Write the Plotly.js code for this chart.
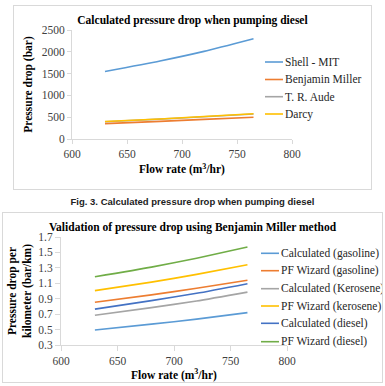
<!DOCTYPE html>
<html>
<head>
<meta charset="utf-8">
<script src="https://cdn.plot.ly/plotly-3.0.1.min.js"></script>
<style>
  html, body { margin: 0; padding: 0; background: #fff; width: 385px; height: 386px; overflow: hidden; }
  .plot { position: absolute; }
  .frame { position: absolute; border: 1px solid #d9d9d9; box-sizing: border-box; pointer-events: none; }
  #caption { position: absolute; left: 0; width: 385px; top: 196px; text-align: center;
             font-family: "Liberation Sans", Arial, sans-serif; font-weight: bold; font-size: 9.5px; color: #222; }
</style>
</head>
<body>
<div id="dieselChart" class="plot" style="left:13px;top:5px;width:359px;height:185px"></div>
<div class="frame" style="left:13px;top:5px;width:359px;height:185px"></div>
<div id="caption">Fig. 3. Calculated pressure drop when pumping diesel</div>
<div id="validationChart" class="plot" style="left:2px;top:212px;width:381px;height:171px"></div>
<div class="frame" style="left:2px;top:212px;width:381px;height:171px"></div>
<script>
// ---- Fig. 3: pressure drop (bar) vs flow rate, diesel ----
const dieselFlow = [630, 680, 720, 765];
const dieselMethods = ["Shell - MIT", "Benjamin Miller", "T. R. Aude", "Darcy"];
const shellMIT = [1550, 1790, 2010, 2300];
const benjaminMiller = [352, 405, 450, 500];
const trAude = [395, 455, 510, 572];
const darcy = [400, 460, 515, 578];
const dieselColors = ["#5B9BD5", "#ED7D31", "#A5A5A5", "#FFC000"];

// ---- Validation: pressure drop per km (bar/km) vs flow rate ----
const validationFlow = [630, 680, 720, 765];
const validationNames = ["Calculated (gasoline)", "PF Wizard (gasoline)", "Calculated (Kerosene)",
                         "PF Wizard (kerosene)", "Calculated (diesel)", "PF Wizard (diesel)"];
const calcGasoline = [0.495, 0.570, 0.635, 0.720];
const pfGasoline = [0.855, 0.950, 1.035, 1.140];
const calcKerosene = [0.685, 0.785, 0.870, 0.985];
const pfKerosene = [1.005, 1.115, 1.215, 1.340];
const calcDiesel = [0.765, 0.875, 0.970, 1.095];
const pfDiesel = [1.185, 1.310, 1.425, 1.570];
const validationColors = ["#5B9BD5", "#ED7D31", "#A5A5A5", "#FFC000", "#4472C4", "#70AD47"];

const SERIF = "Liberation Serif, Times New Roman, serif";

// Hand-drawn legend: short line sample followed by the series name,
// placed in pixel units of the chart div and converted to paper coords.
function legend(names, colors, x0, ys, m, w, h, fontSize) {
  const pw = w - m.l - m.r, ph = h - m.t - m.b;
  const px = x => (x - m.l) / pw;
  const py = y => 1 - (y - m.t) / ph;
  const shapes = [], annotations = [];
  names.forEach((name, i) => {
    shapes.push({ type: "line", xref: "paper", yref: "paper",
                  x0: px(x0), x1: px(x0 + 18), y0: py(ys[i]), y1: py(ys[i]),
                  line: { color: colors[i], width: 1.6 } });
    annotations.push({ xref: "paper", yref: "paper", x: px(x0 + 18), y: py(ys[i]),
                       xanchor: "left", yanchor: "middle", showarrow: false, text: name,
                       font: { family: SERIF, size: fontSize, color: "#262626" } });
  });
  return { shapes, annotations };
}

function axis(extra) {
  return Object.assign({
    showline: true, linecolor: "#d9d9d9", linewidth: 1,
    ticks: "outside", ticklen: 4, tickcolor: "#d9d9d9", tickwidth: 1,
    showgrid: false, zeroline: false, fixedrange: true,
    tickfont: { family: SERIF, size: 11.5, color: "#404040" }
  }, extra);
}

function titleFont(size) {
  return { family: SERIF, size: size, color: "#000", weight: "bold" };
}

// ---- draw Fig. 3 ----
(function () {
  const w = 359, h = 185, m = { l: 59, r: 80, t: 25, b: 51 };
  const series = [shellMIT, benjaminMiller, trAude, darcy];
  const traces = series.map((ys, i) => ({
    x: dieselFlow, y: ys, type: "scatter", mode: "lines", name: dieselMethods[i],
    line: { color: dieselColors[i], width: 1.6, shape: "spline", smoothing: 0.6 }, hoverinfo: "skip"
  }));
  const lg = legend(dieselMethods, dieselColors, 252, [57, 74.5, 91.7, 109], m, w, h, 11.5);
  Plotly.newPlot("dieselChart", traces, {
    width: w, height: h, margin: m, showlegend: false,
    paper_bgcolor: "rgba(0,0,0,0)", plot_bgcolor: "rgba(0,0,0,0)",
    title: { text: "Calculated pressure drop when pumping diesel", font: titleFont(11.5),
             x: 0.5, xref: "container", xanchor: "center", y: 1 - 15 / h, yref: "container", yanchor: "middle" },
    xaxis: axis({ range: [600, 800], dtick: 50, tick0: 600,
                  title: { text: "Flow rate (m<sup>3</sup>/hr)", font: titleFont(11.5), standoff: 6 } }),
    yaxis: axis({ range: [0, 2500], dtick: 500, tick0: 0,
                  title: { text: "Pressure drop (bar)", font: titleFont(11.5), standoff: 6 } }),
    shapes: lg.shapes, annotations: lg.annotations
  }, { staticPlot: true });
})();

// ---- draw validation chart ----
(function () {
  const w = 381, h = 171, m = { l: 59, r: 96, t: 25, b: 38 };
  const series = [calcGasoline, pfGasoline, calcKerosene, pfKerosene, calcDiesel, pfDiesel];
  const traces = series.map((ys, i) => ({
    x: validationFlow, y: ys, type: "scatter", mode: "lines", name: validationNames[i],
    line: { color: validationColors[i], width: 1.6, shape: "spline", smoothing: 0.6 }, hoverinfo: "skip"
  }));
  const lg = legend(validationNames, validationColors, 259,
                    [41.3, 58.7, 76.7, 94, 111.3, 129.7], m, w, h, 11.5);
  Plotly.newPlot("validationChart", traces, {
    width: w, height: h, margin: m, showlegend: false,
    paper_bgcolor: "rgba(0,0,0,0)", plot_bgcolor: "rgba(0,0,0,0)",
    title: { text: "Validation of pressure drop using Benjamin Miller method", font: titleFont(11.5),
             x: 0.5, xref: "container", xanchor: "center", y: 1 - 14.7 / h, yref: "container", yanchor: "middle" },
    xaxis: axis({ range: [600, 800], dtick: 50, tick0: 600, ticklen: 5,
                  title: { text: "Flow rate (m<sup>3</sup>/hr)", font: titleFont(11.5), standoff: 4 } }),
    yaxis: axis({ range: [0.3, 1.7], dtick: 0.2, tick0: 0.3, tickformat: ".1f", ticklen: 5,
                  title: { text: "Pressure drop per<br>kilometer (bar/km)", font: titleFont(11.5), standoff: 4 } }),
    shapes: lg.shapes, annotations: lg.annotations
  }, { staticPlot: true });
})();
</script>
</body>
</html>
